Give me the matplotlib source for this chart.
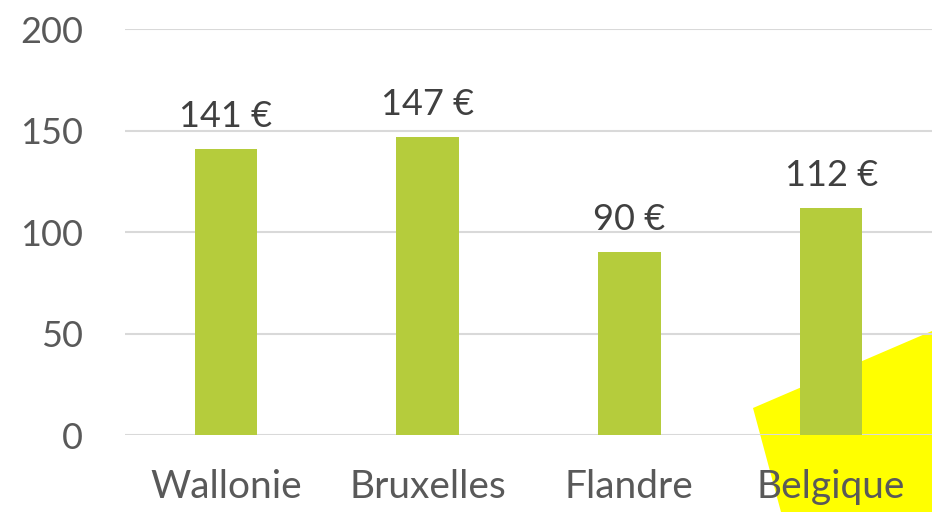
import numpy as np
import matplotlib.pyplot as plt
from matplotlib.patches import Polygon

regions = ["Wallonie", "Bruxelles", "Flandre", "Belgique"]
values = [141, 147, 90, 112]
yticks = [0, 50, 100, 150, 200]

plt.rcParams["font.family"] = ["Lato", "DejaVu Sans"]

fig = plt.figure(figsize=(9.32, 5.12), dpi=100)
ax = fig.add_axes([0.134, 0.150, 0.866, 0.793])
ax.set_facecolor("none")

# yellow highlight behind the plot
hl = Polygon([[753 / 932, 1 - 408 / 512], [1.0, 1 - 331 / 512],
              [1.0, 0.0], [781 / 932, 0.0]],
             closed=True, facecolor="#ffff00", edgecolor="none",
             transform=fig.transFigure, zorder=-1)
fig.patches.append(hl)

x = np.arange(len(regions))
ax.bar(x, values, width=0.31, color="#b5cc3c", zorder=3)

for xi, v in zip(x, values):
    ax.text(xi, v + 8, f"{v} €", ha="center", va="bottom",
            fontsize=26, color="#404040")

ax.set_xlim(-0.5, len(regions) - 0.5)
ax.set_ylim(0, 200)
ax.set_yticks(yticks)
ax.set_xticks(x)
ax.set_xticklabels(regions)
ax.grid(axis="y", color="#d9d9d9", linewidth=1.5, zorder=1)
ax.tick_params(axis="y", length=0, pad=30, labelsize=26, labelcolor="#595959")
ax.tick_params(axis="x", length=0, pad=24, labelsize=28, labelcolor="#595959")
for s in ax.spines.values():
    s.set_visible(False)

fig.savefig("out.png", dpi=100)
